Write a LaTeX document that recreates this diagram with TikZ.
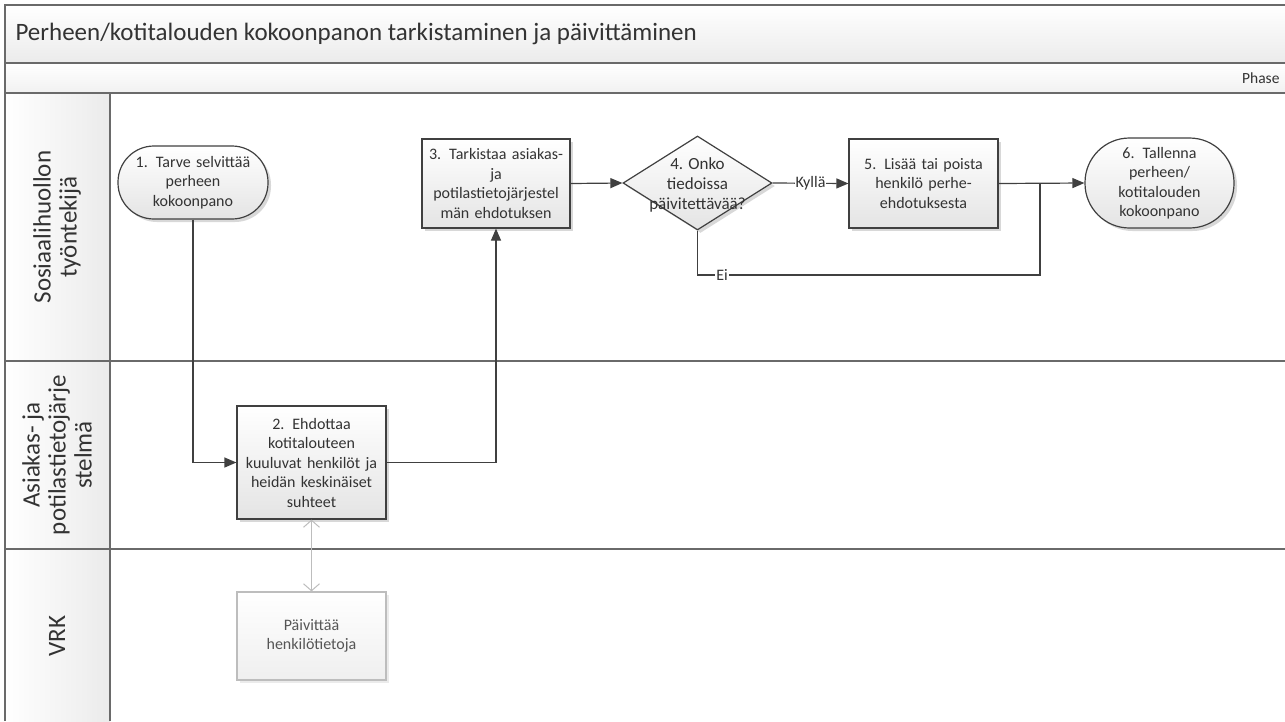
\documentclass[tikz,border=0pt]{standalone}
\usepackage{fontspec}
\setmainfont{Carlito}
\usetikzlibrary{arrows.meta,shapes.geometric,shadows}

\definecolor{linec}{HTML}{404040}
\definecolor{framec}{HTML}{6A6A6A}
\definecolor{txtc}{HTML}{333333}
\definecolor{boxbot}{HTML}{E4E4E4}
\definecolor{bandc}{HTML}{EBEBEB}
\definecolor{lightc}{HTML}{BDBDBD}
\definecolor{softtxt}{HTML}{555555}

\tikzset{
  flowline/.style={draw=linec, line width=1.2pt},
  arr/.style={flowline, -{Triangle[length=12pt,width=10pt]}},
  shade box/.style={top color=white, bottom color=boxbot,
    drop shadow={shadow xshift=3pt, shadow yshift=-3pt, fill=black!30, opacity=0.5}},
  procbox/.style 2 args={draw=linec, line width=1.2pt, shade box,
    minimum width=#1, minimum height=#2, text width=#1-6pt,
    align=center, inner sep=0pt, text=txtc},
  termbox/.style 2 args={draw=linec, line width=1.2pt, shade box,
    rounded corners=#2/2-0.5pt, minimum width=#1, minimum height=#2,
    text width=#1-30pt, align=center, inner sep=0pt, text=txtc},
  vrkbox/.style 2 args={draw=lightc, line width=1.2pt, top color=white,
    bottom color=bandc!80,
    drop shadow={shadow xshift=3pt, shadow yshift=-3pt, fill=black!20, opacity=0.4},
    minimum width=#1, minimum height=#2, text width=#1-6pt,
    align=center, inner sep=0pt, text=softtxt},
  lanetitle/.style={rotate=90, align=center, text=txtc,
    font=\fontsize{25}{26}\selectfont},
  edgelabel/.style={fill=white, inner sep=1pt, text=txtc,
    font=\fontsize{16}{19}\selectfont},
}

\begin{document}
\begin{tikzpicture}[x=1pt, y=-1pt, font=\fontsize{16}{19.5}\selectfont]
\useasboundingbox (0,0) rectangle (1285,721);

% title band and phase band
\shade[top color=white, bottom color=bandc] (5,5) rectangle (1290,63);
\shade[top color=white, bottom color=bandc!70] (5,63) rectangle (1290,93);
% lane header column
\shade[left color=white, right color=bandc] (5,93) rectangle (110,721);

\draw[framec, line width=1.2pt] (5,721) -- (5,5) -- (1290,5);
\draw[framec, line width=1.5pt] (5,63) -- (1290,63);
\draw[framec, line width=1.5pt] (5,93) -- (1290,93);
\draw[framec, line width=1.2pt] (110,93) -- (110,721);
\draw[framec, line width=1.2pt] (5,361) -- (1290,361);
\draw[framec, line width=1.2pt] (5,549) -- (1290,549);

\node (title) [anchor=west, text=txtc, font=\fontsize{25}{29}\selectfont]
  at (12,34) {Perheen/kotitalouden kokoonpanon tarkistaminen ja päivittäminen};
\node (phase) [anchor=east, text=txtc, font=\fontsize{15.5}{18}\selectfont]
  at (1283,78) {Phase};

\node (lane1) [lanetitle] at (57,227) {Sosiaalihuollon\\työntekijä};
\node (lane2) [lanetitle] at (57,455) {Asiakas- ja\\potilastietojärje\\stelmä};
\node (lane3) [lanetitle] at (57,636) {VRK};

% process steps
\node (n1) [termbox={150pt}{73pt}] at (193,182.5)
  {1. Tarve selvittää\\perheen\\kokoonpano};
\node (n2) [procbox={149pt}{113pt}] at (311.5,462.5)
  {2. Ehdottaa\\kotitalouteen\\kuuluvat henkilöt ja\\heidän keskinäiset\\suhteet};
\node (n3) [procbox={148pt}{89pt}] at (496,183.5)
  {3. Tarkistaa asiakas-\\ja\\potilastietojärjestel\\män ehdotuksen};
\node (d4) [diamond, draw=linec, line width=1.2pt, shade box,
  minimum width=149pt, minimum height=94pt, inner sep=0pt] at (697.5,183) {};
\node (d4text) [align=center, text=txtc, font=\fontsize{17}{20}\selectfont]
  at (697.5,185) {4. Onko\\tiedoissa\\päivitettävää?};
\node (n5) [procbox={149pt}{89pt}] at (923.5,183.5)
  {5. Lisää tai poista\\henkilö perhe-\\ehdotuksesta};
\node (n6) [termbox={149pt}{90pt}] at (1159.5,183)
  {6. Tallenna\\perheen/\\kotitalouden\\kokoonpano};
\node (vrk) [vrkbox={149pt}{88pt}] at (311.5,636)
  {Päivittää\\henkilötietoja};

% connectors
\coordinate (eiturn) at (1040,275);
\draw[arr] (n1.south) |- (n2.west);
\draw[arr] (n2.east) -| (n3.south);
\draw[arr] (n3.east) -- (d4.west);
\draw[arr] (d4.east) -- node[edgelabel] (kylla) {Kyllä} (n5.west);
\draw[arr] (n5.east) -- (n6.west);
\draw[flowline] (d4.south) |- (eiturn) -- (eiturn |- n5.east);
\node (ei) [edgelabel] at (722,275) {Ei};
\draw[lightc, line width=1pt,
  {Straight Barb[length=7pt,width=16pt]}-{Straight Barb[length=7pt,width=16pt]}]
  (n2.south) -- (vrk.north);

\end{tikzpicture}
\end{document}
